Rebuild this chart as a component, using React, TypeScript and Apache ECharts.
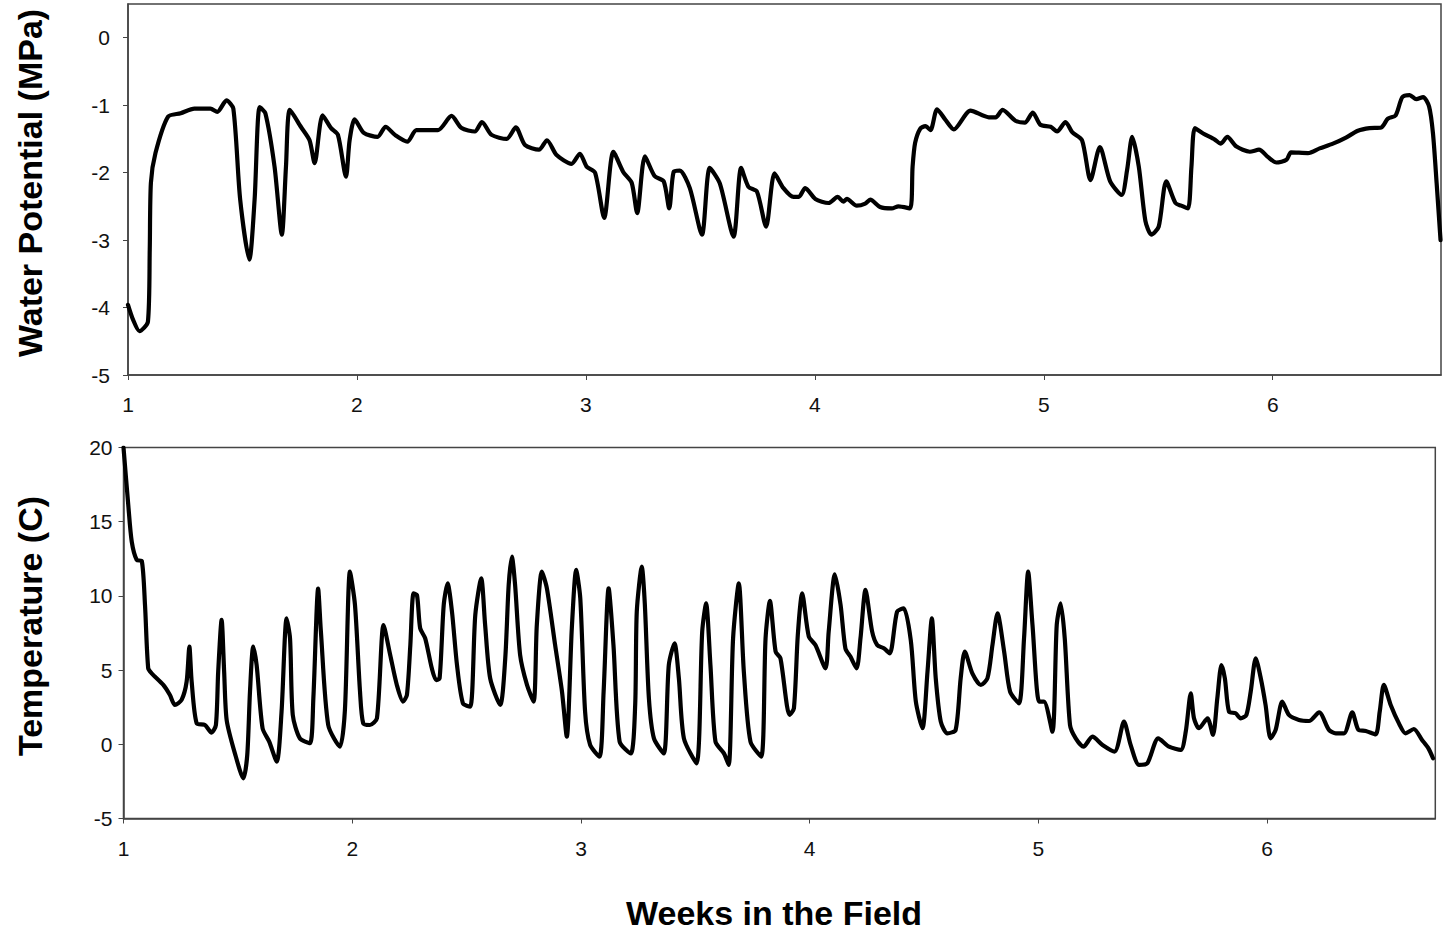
import React, { useEffect, useRef } from "react";
import * as echarts from "echarts";

// Weeks in the field (x) and water potential (MPa)
const weeksWP = [
  1.0, 1.022, 1.05, 1.087, 1.095, 1.1, 1.12, 1.175, 1.23, 1.29, 1.36, 1.39, 1.43, 1.46, 1.49, 1.53, 1.553,
  1.575, 1.6, 1.64, 1.672, 1.69, 1.707, 1.755, 1.793, 1.815, 1.85, 1.887, 1.917, 1.952, 1.968, 1.99, 2.03,
  2.09, 2.125, 2.166, 2.22, 2.26, 2.354, 2.413, 2.457, 2.515, 2.546, 2.588, 2.654, 2.694, 2.734, 2.795,
  2.83, 2.872, 2.937, 2.974, 3.003, 3.04, 3.08, 3.12, 3.163, 3.2, 3.224, 3.258, 3.3, 3.34, 3.364, 3.383,
  3.41, 3.454, 3.507, 3.541, 3.585, 3.645, 3.678, 3.71, 3.747, 3.787, 3.824, 3.863, 3.907, 3.93, 3.958,
  4.002, 4.06, 4.1, 4.125, 4.14, 4.183, 4.22, 4.242, 4.285, 4.336, 4.365, 4.416, 4.427, 4.438, 4.46,
  4.483, 4.505, 4.534, 4.571, 4.607, 4.68, 4.76, 4.79, 4.82, 4.876, 4.917, 4.952, 4.985, 5.03, 5.058,
  5.095, 5.124, 5.167, 5.204, 5.245, 5.29, 5.34, 5.364, 5.386, 5.415, 5.444, 5.47, 5.502, 5.535, 5.575,
  5.6, 5.63, 5.645, 5.66, 5.696, 5.747, 5.772, 5.802, 5.84, 5.9, 5.94, 5.98, 6.016, 6.06, 6.08, 6.154,
  6.205, 6.263, 6.32, 6.372, 6.423, 6.474, 6.503, 6.537, 6.566, 6.598, 6.627, 6.657, 6.683, 6.7, 6.716,
  6.733,
];
const waterPotential = [
  -3.96, -4.18, -4.35, -4.21, -3.14, -2.15, -1.71, -1.17, -1.12, -1.05, -1.05, -1.1, -0.93, -1.05, -2.4,
  -3.29, -2.4, -1.03, -1.12, -1.91, -2.92, -1.91, -1.07, -1.32, -1.52, -1.86, -1.15, -1.34, -1.44, -2.06,
  -1.52, -1.21, -1.41, -1.47, -1.32, -1.44, -1.54, -1.37, -1.37, -1.16, -1.34, -1.39, -1.25, -1.44, -1.5,
  -1.33, -1.59, -1.66, -1.52, -1.74, -1.87, -1.72, -1.91, -2.0, -2.67, -1.69, -1.99, -2.15, -2.6, -1.76,
  -2.05, -2.13, -2.53, -1.99, -1.97, -2.23, -2.92, -1.93, -2.16, -2.95, -1.93, -2.21, -2.28, -2.8, -2.01,
  -2.23, -2.36, -2.36, -2.23, -2.39, -2.45, -2.36, -2.43, -2.39, -2.49, -2.46, -2.4, -2.51, -2.53, -2.5,
  -2.53, -1.91, -1.56, -1.35, -1.31, -1.37, -1.06, -1.22, -1.36, -1.08, -1.18, -1.18, -1.07, -1.23, -1.26,
  -1.11, -1.29, -1.32, -1.39, -1.25, -1.4, -1.52, -2.11, -1.62, -2.13, -2.33, -1.96, -1.47, -1.91, -2.72,
  -2.92, -2.8, -2.13, -2.45, -2.49, -2.53, -1.91, -1.34, -1.42, -1.51, -1.57, -1.47, -1.61, -1.69, -1.66,
  -1.77, -1.85, -1.81, -1.7, -1.71, -1.64, -1.57, -1.48, -1.38, -1.34, -1.33, -1.2, -1.15, -0.88, -0.85,
  -0.91, -0.88, -1.02, -1.42, -2.16, -3.0,
];

// Weeks in the field (x) and temperature (C)
const weeksTemp = [
  1.0, 1.021, 1.036, 1.058, 1.08, 1.094, 1.108, 1.123, 1.174, 1.203, 1.225, 1.254, 1.276, 1.288, 1.298,
  1.32, 1.356, 1.385, 1.404, 1.414, 1.429, 1.44, 1.451, 1.487, 1.524, 1.541, 1.553, 1.567, 1.582, 1.608,
  1.637, 1.67, 1.691, 1.713, 1.728, 1.74, 1.771, 1.815, 1.83, 1.851, 1.863, 1.895, 1.946, 1.968, 1.99,
  2.012, 2.034, 2.048, 2.077, 2.108, 2.137, 2.166, 2.195, 2.222, 2.239, 2.254, 2.268, 2.283, 2.297, 2.319,
  2.348, 2.367, 2.382, 2.4, 2.417, 2.436, 2.458, 2.484, 2.516, 2.538, 2.564, 2.581, 2.603, 2.647, 2.669,
  2.684, 2.698, 2.712, 2.734, 2.764, 2.793, 2.807, 2.829, 2.851, 2.887, 2.917, 2.938, 2.96, 2.979, 2.997,
  3.018, 3.04, 3.081, 3.099, 3.121, 3.142, 3.169, 3.218, 3.237, 3.244, 3.266, 3.279, 3.297, 3.319, 3.362,
  3.384, 3.409, 3.428, 3.45, 3.505, 3.53, 3.547, 3.566, 3.588, 3.625, 3.646, 3.665, 3.69, 3.712, 3.741,
  3.788, 3.807, 3.826, 3.851, 3.872, 3.912, 3.931, 3.948, 3.967, 3.996, 4.025, 4.069, 4.083, 4.11, 4.135,
  4.156, 4.178, 4.205, 4.222, 4.244, 4.273, 4.295, 4.324, 4.35, 4.382, 4.411, 4.442, 4.464, 4.493, 4.515,
  4.534, 4.551, 4.573, 4.602, 4.638, 4.66, 4.678, 4.711, 4.748, 4.777, 4.799, 4.821, 4.85, 4.876, 4.915,
  4.937, 4.955, 4.974, 5.003, 5.024, 5.061, 5.08, 5.097, 5.115, 5.138, 5.163, 5.197, 5.236, 5.28, 5.333,
  5.374, 5.403, 5.44, 5.476, 5.524, 5.571, 5.622, 5.644, 5.666, 5.68, 5.702, 5.739, 5.763, 5.782, 5.8,
  5.815, 5.833, 5.862, 5.884, 5.909, 5.928, 5.95, 5.972, 5.993, 6.015, 6.037, 6.066, 6.095, 6.139, 6.183,
  6.227, 6.27, 6.3, 6.336, 6.372, 6.399, 6.431, 6.474, 6.492, 6.51, 6.54, 6.576, 6.605, 6.641, 6.677,
  6.705, 6.725,
];
const temperature = [
  20.0, 16.1, 13.66, 12.42, 12.35, 9.39, 5.12, 4.78, 4.0, 3.32, 2.65, 2.99, 4.22, 6.58, 4.22, 1.41, 1.3,
  0.79, 1.3, 4.9, 8.38, 4.9, 1.64, -0.61, -2.29, -0.72, 3.55, 6.58, 5.34, 1.08, 0.18, -1.17, 2.2, 8.49,
  7.14, 1.98, 0.4, 0.07, 3.1, 10.5, 7.59, 1.3, -0.16, 2.31, 11.64, 9.39, 3.55, 1.41, 1.3, 1.75, 8.04, 6.02,
  4.0, 2.88, 3.32, 6.69, 10.17, 10.06, 7.82, 7.14, 5.12, 4.33, 4.45, 9.39, 10.85, 8.94, 5.34, 2.76, 2.54,
  8.72, 11.19, 8.04, 4.45, 2.65, 5.8, 10.74, 12.65, 10.74, 6.02, 4.0, 2.88, 8.04, 11.64, 10.51, 6.69, 3.55,
  0.52, 7.82, 11.75, 9.84, 2.2, -0.04, -0.83, 3.55, 10.51, 6.69, 0.18, -0.61, 2.65, 8.94, 11.97, 9.5, 3.1,
  0.4, -0.61, 5.34, 6.81, 4.45, 0.4, -1.28, 7.59, 9.5, 5.34, 0.18, -0.61, -1.39, 7.14, 10.85, 4.9, 0.18,
  -0.83, 7.14, 9.66, 6.25, 5.8, 1.98, 2.43, 7.37, 10.17, 7.26, 6.69, 5.12, 7.59, 11.46, 9.39, 6.47, 5.91,
  5.12, 7.14, 10.4, 7.59, 6.69, 6.47, 6.13, 8.94, 9.16, 7.0, 2.88, 1.08, 4.9, 8.49, 4.45, 1.53, 0.74, 0.97,
  4.45, 6.25, 4.78, 4.0, 4.45, 6.69, 8.83, 6.25, 3.55, 2.76, 7.14, 11.64, 8.04, 2.88, 2.88, 0.85, 8.04,
  9.5, 7.14, 1.3, 0.4, -0.16, 0.52, -0.04, -0.49, 1.53, -0.04, -1.39, -1.28, 0.4, -0.16, -0.38, 0.85, 3.44,
  1.75, 1.08, 1.75, 0.63, 3.1, 5.34, 4.45, 2.2, 2.09, 1.75, 1.98, 3.55, 5.8, 4.45, 2.65, 0.4, 0.97, 2.88,
  1.98, 1.64, 1.57, 2.16, 0.97, 0.74, 0.74, 2.16, 0.97, 0.9, 0.67, 2.2, 4.0, 2.65, 1.41, 0.74, 1.03, 0.29,
  -0.27, -0.94,
];

const xTicks = [1, 2, 3, 4, 5, 6];
const wpTicks = [-5, -4, -3, -2, -1, 0];
const tempTicks = [-5, 0, 5, 10, 15, 20];

const FONT = "'Liberation Sans', Arial, sans-serif";

export default function App() {
  const ref = useRef<HTMLDivElement>(null);
  useEffect(() => {
    if (!ref.current) return;
    const chart = echarts.init(ref.current, null, { renderer: "svg" });
    const axisLineStyle = { color: "#444", width: 1.5 };
    const labelStyle = { color: "#111", fontSize: 21, fontFamily: FONT };
    const xAxisCommon = (gridIndex: number) => ({
      type: "value",
      gridIndex,
      min: 1,
      max: 6.735,
      interval: 1,
      splitLine: { show: false },
      axisLine: { show: true, lineStyle: axisLineStyle, onZero: false },
      axisTick: { show: true, length: 5, lineStyle: { color: "#444" }, customValues: xTicks },
      axisLabel: { ...labelStyle, margin: 19, customValues: xTicks },
    });
    const lineCommon = { color: "#000", width: 4.2, join: "round", cap: "round" };
    chart.setOption({
      animation: false,
      backgroundColor: "#fff",
      grid: [
        { left: 128, right: 7, top: 4, height: 371, show: true, borderColor: "#444", borderWidth: 1.5, backgroundColor: "transparent" },
        { left: 123.5, right: 12.7, top: 447.5, height: 371, show: true, borderColor: "#444", borderWidth: 1.5, backgroundColor: "transparent" },
      ],
      xAxis: [xAxisCommon(0), xAxisCommon(1)],
      yAxis: [
        {
          type: "value",
          gridIndex: 0,
          min: -5,
          max: 0.5,
          interval: 1,
          splitLine: { show: false },
          axisLine: { show: true, lineStyle: axisLineStyle, onZero: false },
          axisTick: { show: true, length: 5, lineStyle: { color: "#444" }, customValues: wpTicks },
          axisLabel: { ...labelStyle, margin: 18, customValues: wpTicks },
        },
        {
          type: "value",
          gridIndex: 1,
          min: -5,
          max: 20,
          interval: 5,
          splitLine: { show: false },
          axisLine: { show: true, lineStyle: axisLineStyle, onZero: false },
          axisTick: { show: true, length: 5, lineStyle: { color: "#444" }, customValues: tempTicks },
          axisLabel: { ...labelStyle, margin: 11, customValues: tempTicks },
        },
      ],
      series: [
        {
          type: "line",
          xAxisIndex: 0,
          yAxisIndex: 0,
          data: weeksWP.map((w, i) => [w, waterPotential[i]]),
          showSymbol: false,
          symbol: "none",
          smooth: 0.25,
          lineStyle: lineCommon,
          clip: true,
        },
        {
          type: "line",
          xAxisIndex: 1,
          yAxisIndex: 1,
          data: weeksTemp.map((w, i) => [w, temperature[i]]),
          showSymbol: false,
          symbol: "none",
          smooth: 0.25,
          lineStyle: lineCommon,
          clip: true,
        },
      ],
      graphic: [
        {
          type: "text",
          x: 30,
          y: 183,
          rotation: Math.PI / 2,
          style: { text: "Water Potential (MPa)", font: `bold 34px ${FONT}`, fill: "#000", align: "center", verticalAlign: "middle" },
        },
        {
          type: "text",
          x: 30,
          y: 626,
          rotation: Math.PI / 2,
          style: { text: "Temperature (C)", font: `bold 34px ${FONT}`, fill: "#000", align: "center", verticalAlign: "middle" },
        },
        {
          type: "text",
          x: 774,
          y: 913,
          style: { text: "Weeks in the Field", font: `bold 34px ${FONT}`, fill: "#000", align: "center", verticalAlign: "middle" },
        },
      ],
    });
    return () => chart.dispose();
  }, []);
  return <div ref={ref} style={{ position: "absolute", left: 0, top: 0, width: 1448, height: 934 }} />;
}
